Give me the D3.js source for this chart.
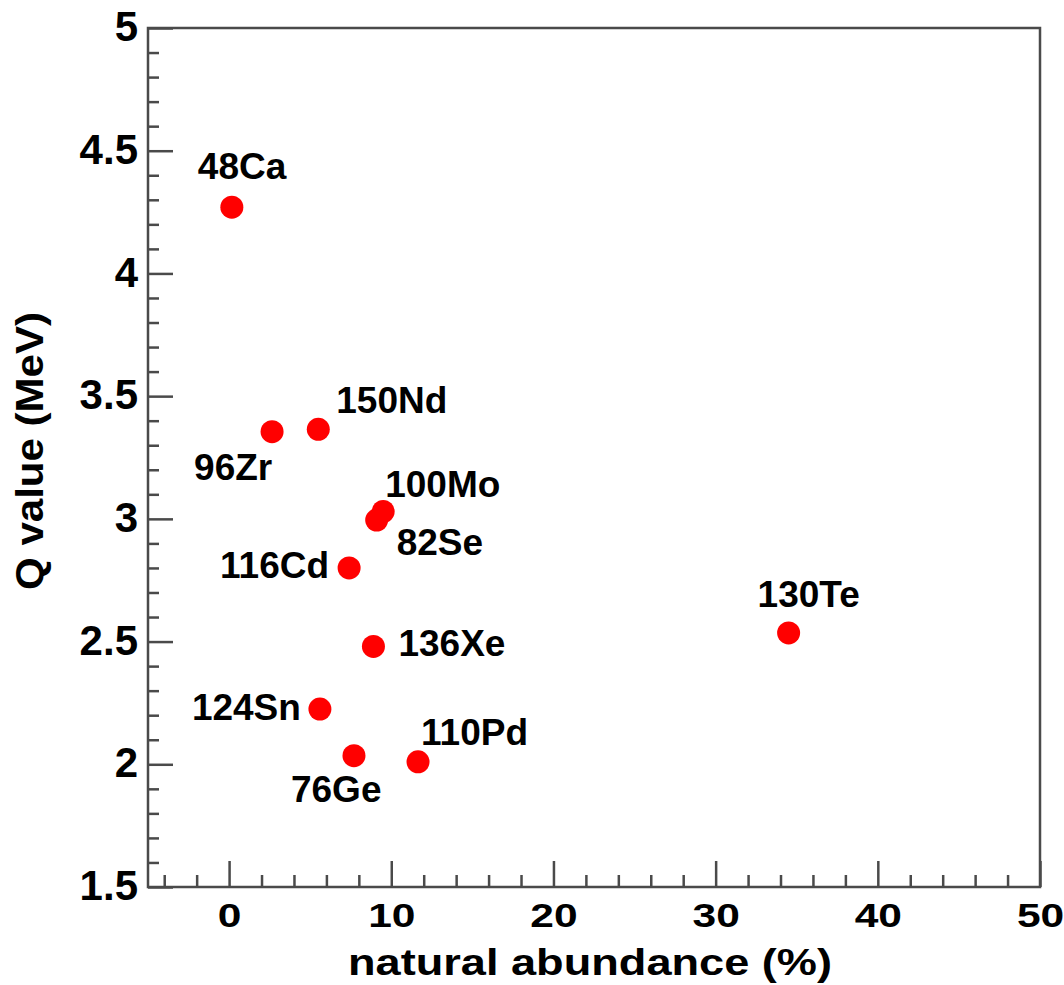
<!DOCTYPE html>
<html>
<head>
<meta charset="utf-8">
<script src="https://cdn.jsdelivr.net/npm/d3@7"></script>
<style>
  body { margin: 0; background: #fff; }
  text { font-family: "Liberation Sans", Arial, sans-serif; font-weight: bold; fill: #000; }
</style>
</head>
<body>
<script>
// isotopes, natural abundance (%) and Q value (MeV)
const isotopes = ["48Ca", "96Zr", "150Nd", "100Mo", "82Se", "116Cd", "136Xe", "124Sn", "76Ge", "110Pd", "130Te"];
const abundance = [0.17, 2.65, 5.5, 9.5, 9.1, 7.4, 8.9, 5.6, 7.7, 11.65, 34.5];
const qValue = [4.27, 3.355, 3.365, 3.03, 2.995, 2.8, 2.48, 2.225, 2.035, 2.01, 2.535];

const xMajor = [0, 10, 20, 30, 40, 50];
const yMajor = [1.5, 2, 2.5, 3, 3.5, 4, 4.5, 5];

// where each label sits relative to its dot: [dx, dy, anchor]
const labelPlace = [
  [-34, -28, "start"], [-78, 48, "start"], [18, -16, "start"], [2, -14, "start"],
  [20, 35, "start"], [-20, 10, "end"], [25, 10, "start"], [-19, 11, "end"],
  [-63, 46, "start"], [3, -17, "start"], [-31, -26, "start"]
];

const width = 1064;
const height = 985;
const plotLeft = 148, plotRight = 1040, plotTop = 28, plotBottom = 887;
const axisColor = "#4a4a4a";

const x = d3.scaleLinear().domain([-5, 50]).range([plotLeft, plotRight]);
const y = d3.scaleLinear().domain([1.5, 5]).range([plotBottom, plotTop]);

const svg = d3.select("body").append("svg")
  .attr("width", width)
  .attr("height", height);

// minor ticks
const xMinor = d3.range(-4, 50, 2).filter(v => v % 10 !== 0);
const yMinor = d3.range(16, 50, 1).map(v => v / 10).filter(v => Math.round(v * 10) % 5 !== 0);

function styleAxis(g) {
  g.select(".domain").remove();
  g.selectAll("line").attr("stroke", axisColor).attr("stroke-width", 2.5);
}

svg.append("g")
  .attr("transform", `translate(0,${plotBottom})`)
  .call(d3.axisBottom(x).tickValues(xMinor).tickSize(-12).tickFormat(""))
  .call(styleAxis);

svg.append("g")
  .attr("transform", `translate(${plotLeft},0)`)
  .call(d3.axisLeft(y).tickValues(yMinor).tickSize(-11).tickFormat(""))
  .call(styleAxis);

// major ticks with labels
const xAxis = svg.append("g")
  .attr("transform", `translate(0,${plotBottom})`)
  .call(d3.axisBottom(x).tickValues(xMajor).tickSize(-26).tickFormat(d3.format("d")))
  .call(styleAxis);
xAxis.selectAll("text")
  .attr("y", 40).attr("dy", null)
  .attr("font-size", 34)
  .attr("transform", "scale(1.25,1)")
  .style("font-family", "Liberation Sans, Arial, sans-serif")
  .style("font-weight", "bold")
  .attr("fill", "#000");

const yAxis = svg.append("g")
  .attr("transform", `translate(${plotLeft},0)`)
  .call(d3.axisLeft(y).tickValues(yMajor).tickSize(-25).tickFormat(d => d))
  .call(styleAxis);
yAxis.selectAll("text")
  .attr("x", -10).attr("dy", "0.3em")
  .attr("font-size", 42)
  .style("font-family", "Liberation Sans, Arial, sans-serif")
  .style("font-weight", "bold")
  .attr("fill", "#000");

// frame
svg.append("rect")
  .attr("x", plotLeft).attr("y", plotTop)
  .attr("width", plotRight - plotLeft).attr("height", plotBottom - plotTop)
  .attr("fill", "none")
  .attr("stroke", axisColor)
  .attr("stroke-width", 2.5);

// axis titles
svg.append("text")
  .attr("x", 348).attr("y", 975)
  .attr("font-size", 37)
  .attr("textLength", 484)
  .attr("lengthAdjust", "spacingAndGlyphs")
  .text("natural abundance (%)");

svg.append("text")
  .attr("transform", "translate(43,590) rotate(-90)")
  .attr("font-size", 38)
  .attr("textLength", 278)
  .attr("lengthAdjust", "spacingAndGlyphs")
  .text("Q value (MeV)");

// points
const points = isotopes.map((name, i) => ({ name, ab: abundance[i], q: qValue[i], place: labelPlace[i] }));

svg.append("g").selectAll("circle")
  .data(points)
  .join("circle")
  .attr("cx", d => x(d.ab))
  .attr("cy", d => y(d.q))
  .attr("r", 11.5)
  .attr("fill", "#f00");

svg.append("g").selectAll("text")
  .data(points)
  .join("text")
  .attr("x", d => x(d.ab) + d.place[0])
  .attr("y", d => y(d.q) + d.place[1])
  .attr("text-anchor", d => d.place[2])
  .attr("font-size", 37)
  .text(d => d.name);
</script>
</body>
</html>
